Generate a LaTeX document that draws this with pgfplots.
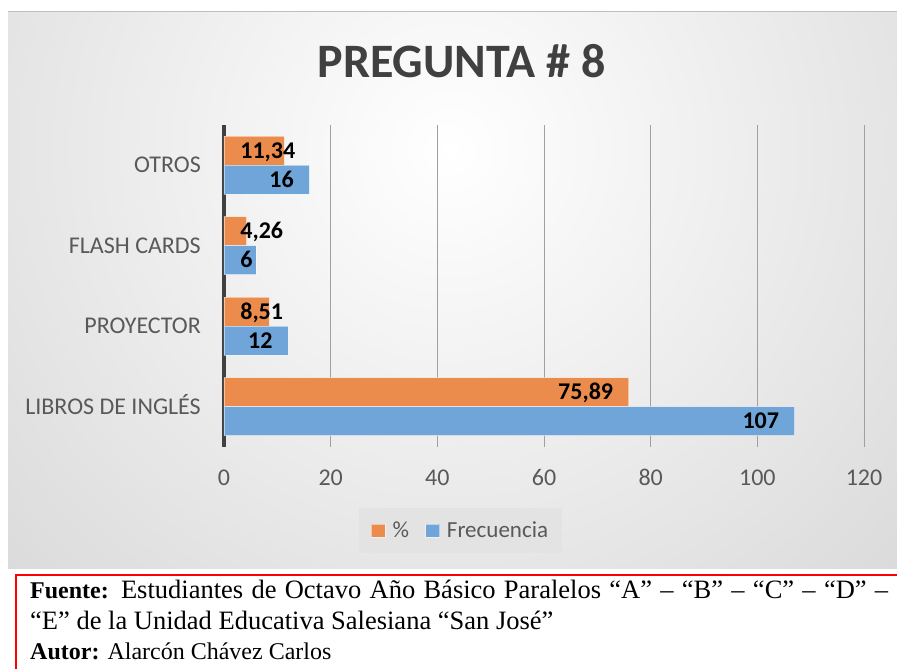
\documentclass[border=0pt]{standalone}
\usepackage{pgfplots}
\pgfplotsset{compat=1.18}
\usepackage{pgfplotstable}
\usepackage{fontspec}
\setmainfont{Carlito}
\newfontfamily\timesfont{Liberation Serif}
\definecolor{barorange}{RGB}{236,140,76}
\definecolor{barblue}{RGB}{111,165,216}
\definecolor{tickgray}{RGB}{89,89,89}
\definecolor{titlegray}{RGB}{64,64,64}
\definecolor{axisdark}{RGB}{64,64,64}
\definecolor{gridgray}{RGB}{160,160,160}
\definecolor{bgout}{RGB}{190,190,190}
\definecolor{legbg}{RGB}{227,227,227}

% dx = horizontal offset (px) from bar end to label start
\pgfplotstableread{
y x dx
0 75.89 -70.9
1 8.51 -29.4
2 4.26 -6.7
3 11.34 -44.5
}\pcttable

\pgfplotstableread{
y x dx
0 107 -52.5
1 12 -40.3
2 6 -16
3 16 -40.3
}\freqtable

\begin{document}
\begin{tikzpicture}
\useasboundingbox (0pt,0pt) rectangle (897pt,669pt);
% chart background
\begin{scope}
\clip (8pt,100pt) rectangle (897pt,657pt);
\shade[inner color=white, outer color=bgout] (450pt,519pt) circle (1100pt);
\end{scope}
\draw[gray!50, line width=1pt] (8pt,657pt) -- (897pt,657pt);
% title
\node[anchor=base, inner sep=0pt, text=titlegray, font=\bfseries\fontsize{48}{56}\selectfont] at (461.5pt,591pt) {PREGUNTA \# 8};

\begin{axis}[
  at={(224pt,222pt)}, anchor=south west,
  scale only axis, width=640pt, height=322pt,
  xbar, bar width=29pt,
  xmin=0, xmax=120, ymin=-0.5, ymax=3.5,
  xtick={0,20,40,60,80,100,120},
  ytick={0,1,2,3},
  yticklabels={LIBROS DE INGLÉS, PROYECTOR, FLASH CARDS, OTROS},
  /pgf/number format/assume math mode=true,
  major tick length=0pt,
  axis x line*=bottom, axis y line*=left,
  x axis line style={draw=none},
  y axis line style={line width=3.5pt, color=axisdark, -},
  xmajorgrids, grid style={gridgray, line width=1pt},
  tick label style={font=\fontsize{24}{28}\selectfont, text=tickgray, inner sep=0pt},
  x tick label style={anchor=base, yshift=-39pt},
  y tick label style={anchor=base east, xshift=-23pt, yshift=-7.7pt},
  nodes near coords={\pgfmathprintnumber[use comma,fixed,precision=2]{\pgfplotspointmeta}},
  legend columns=-1,
  legend style={at={(0.3695,-0.2593)}, anchor=center, fill=legbg, draw=none,
    font=\fontsize{23}{27}\selectfont, text=tickgray,
    inner xsep=12pt, inner ysep=12pt,
    /tikz/every even column/.append style={column sep=14pt}},
  legend image code/.code={\fill[#1] (0pt,-6.5pt) rectangle (14pt,6.5pt);},
]
\addplot[fill=barorange, draw=white, draw opacity=0.5, line width=0.8pt, bar shift=14.5pt,
  visualization depends on={\thisrow{dx} \as \dx},
  every node near coord/.append style={font=\bfseries\fontsize{24}{28}\selectfont, text=black, inner sep=0pt, anchor=base west, xshift=\dx, yshift=-7.6pt}]
  table[x=x, y=y] {\pcttable};
\addlegendentry{\hspace{5pt}\%}
\addplot[fill=barblue, draw=white, draw opacity=0.5, line width=0.8pt, bar shift=-14.5pt,
  visualization depends on={\thisrow{dx} \as \dx},
  every node near coord/.append style={font=\bfseries\fontsize{24}{28}\selectfont, text=black, inner sep=0pt, anchor=base west, xshift=\dx, yshift=-7.6pt}]
  table[x=x, y=y] {\freqtable};
\addlegendentry{\hspace{5pt}Frecuencia}
\end{axis}

% source box
\draw[red, line width=2pt] (16pt,-20pt) rectangle (920pt,94pt);
\node[anchor=base west, inner sep=0pt] at (30pt,70pt) {\timesfont\fontsize{26.5}{30}\selectfont\makebox[858pt][s]{{\fontsize{24}{28}\selectfont\textbf{Fuente:}} Estudiantes de Octavo Año Básico Paralelos “A” – “B” – “C” – “D” –}};
\node[anchor=base west, inner sep=0pt] at (30pt,39.5pt) {\timesfont\fontsize{26.5}{30}\selectfont “E” de la Unidad Educativa Salesiana “San José”};
\node[anchor=base west, inner sep=0pt] at (30pt,9pt) {\timesfont\fontsize{24}{28}\selectfont\textbf{Autor:} Alarcón Chávez Carlos};
\end{tikzpicture}
\end{document}
